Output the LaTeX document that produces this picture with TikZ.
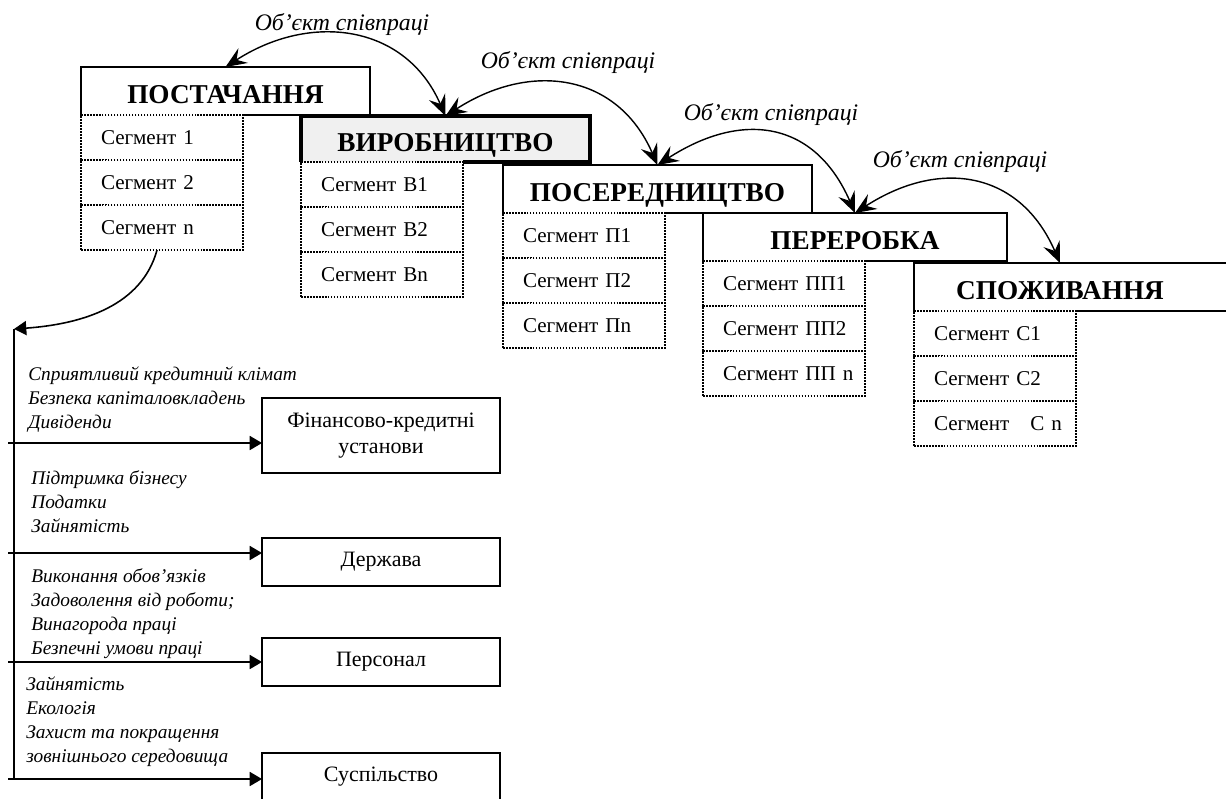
\documentclass[tikz,border=0pt]{standalone}
\usepackage{fontspec}
\setmainfont{Liberation Serif}
\usetikzlibrary{arrows.meta,positioning}

\begin{document}
\begin{tikzpicture}[x=0.02cm,y=-0.02cm,
    hdr/.style={inner sep=0, outer sep=0, minimum height=0.96cm, text height=14.5pt, text depth=0pt,
        font=\fontsize{15.5}{18}\selectfont\bfseries},
    segbox/.style={draw, line width=1.1pt, dash pattern=on 0.9pt off 0.8pt, fill=white,
        outer sep=0, minimum height=0.9cm, text width=3.24cm, inner xsep=0, inner ysep=0,
        align=left, execute at begin node=\hspace*{0.4cm}, font=\fontsize{12}{14}\selectfont},
    party/.style={draw, line width=0.9pt, outer sep=0, minimum width=4.76cm, minimum height=0.96cm,
        align=center, font=\fontsize{12.5}{15}\selectfont},
    note/.style={anchor=base west, align=left, inner sep=0, font=\fontsize{11}{13.6}\selectfont\itshape},
    lbl/.style={anchor=base, inner sep=0, font=\fontsize{13.5}{16}\selectfont\itshape},
    coop/.style={{Stealth[length=12pt,width=10pt,inset=4.5pt]}-{Stealth[length=12pt,width=10pt,inset=4.5pt]}, line width=0.8pt},
    flow/.style={-{Triangle[length=7pt,width=8pt]}, line width=0.9pt}]
    \useasboundingbox (0,0) rectangle (1226,798);

    % Stages
    \node[hdr, minimum width=5.78cm] (post) at (225.5,91) {ПОСТАЧАННЯ};
    \node[hdr, minimum width=5.78cm, minimum height=0.92cm, fill=gray!12] (vyr) at (445.5,139) {ВИРОБНИЦТВО};
    \node[hdr, minimum width=6.18cm] (pos) at (657.5,189) {ПОСЕРЕДНИЦТВО};
    \node[hdr, minimum width=6.08cm] (per) at (855,237) {ПЕРЕРОБКА};
    \node[hdr, minimum width=5.84cm] (spo) at (1060,287) {СПОЖИВАННЯ};
    \coordinate (edge) at (1240,0);

    % Segments
    \foreach \s/\a/\b/\c in {post/1/2/n, vyr/В1/В2/Вn, pos/П1/П2/Пn, per/ПП1/ПП2/ПП n, spo/С1/С2/{\ \ С n}} {
        \node[segbox, below right=0 of \s.south west] (\s1) {Сегмент \a};
        \node[segbox, below=0 of \s1] (\s2) {Сегмент \b};
        \node[segbox, below=0 of \s2] (\s3) {Сегмент \c};
    }

    % Stage frames
    \foreach \s in {post,pos,per}
        \draw[line width=0.9pt] (\s1.north east) -- (\s.south east) |- (\s.north west) -- (\s.south west);
    \draw[line width=1.8pt] (vyr1.north east) -- (vyr.south east) |- (vyr.north west) -- (vyr.south west);
    \draw[line width=0.9pt] (spo1.north east) -- (spo.south -| edge);
    \draw[line width=0.9pt] (spo.north -| edge) -- (spo.north west) -- (spo.south west);

    % Cooperation
    \draw[coop] (post.north) .. controls +(85,-55) and +(-40,-92) .. (vyr.north);
    \draw[coop] (vyr.north) .. controls +(85,-55) and +(-40,-92) .. (pos.north);
    \draw[coop] (pos.north) .. controls +(85,-55) and +(-40,-92) .. (per.north);
    \draw[coop] (per.north) .. controls +(85,-55) and +(-40,-92) .. (spo.north);
    \node[lbl] (l1) at (342,30) {Об’єкт співпраці};
    \node[lbl] (l2) at (568,68) {Об’єкт співпраці};
    \node[lbl] (l3) at (771,120) {Об’єкт співпраці};
    \node[lbl] (l4) at (960,167) {Об’єкт співпраці};

    % Stakeholders
    \node[party, minimum height=1.5cm] (fin) at (381,435.5) {Фінансово-кредитні\\установи};
    \node[party] (derz) at (381,562) {Держава};
    \node[party] (pers) at (381,662) {Персонал};
    \node[party] (susp) at (381,777) {Суспільство};

    \coordinate (turn) at (14,329);
    \coordinate (foot) at (14,779);
    \draw[flow] ([xshift=-0.1cm]post3.south) .. controls +(-15,55) and +(70,-5) .. (turn);
    \draw[line width=0.9pt] (turn) -- (foot);
    \foreach \p/\y in {fin/443, derz/553, pers/662, susp/779} {
        \coordinate (s\p) at (8,\y);
        \draw[flow] (s\p) -- (s\p -| \p.west);
    }

    % Interests (anchored at the last line)
    \node[note] (t1) at (28,428) {Сприятливий кредитний клімат\\Безпека капіталовкладень\\Дивіденди};
    \node[note] (t2) at (31,532) {Підтримка бізнесу\\Податки\\Зайнятість};
    \node[note] (t3) at (31,654) {Виконання обов’язків\\Задоволення від роботи;\\Винагорода праці\\Безпечні умови праці};
    \node[note] (t4) at (26,762) {Зайнятість\\Екологія\\Захист та покращення\\зовнішнього середовища};
\end{tikzpicture}
\end{document}
